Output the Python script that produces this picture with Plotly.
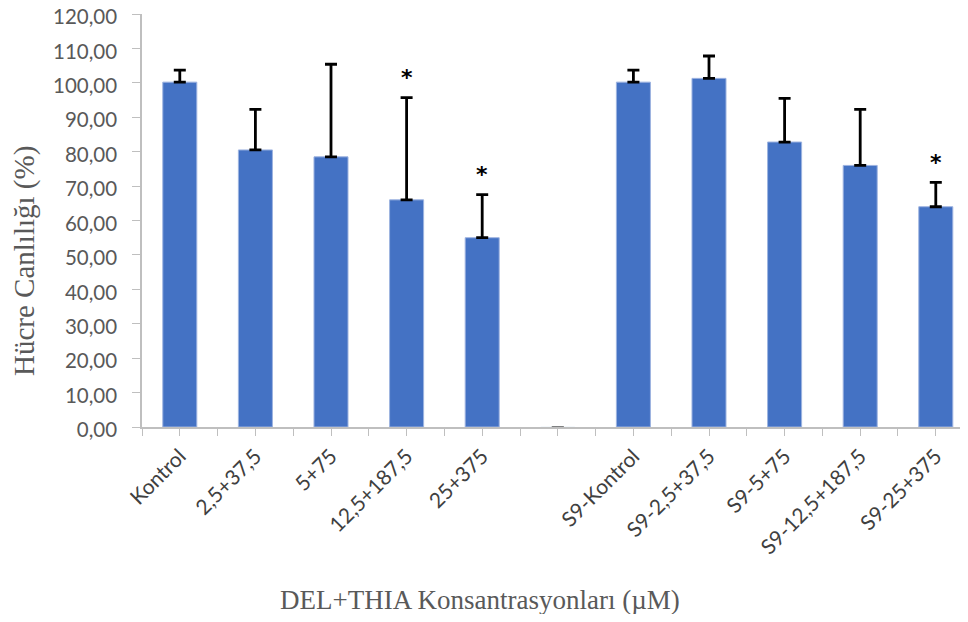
import plotly.graph_objects as go

categories = ["Kontrol", "2,5+37,5", "5+75", "12,5+187,5", "25+375", "",
              "S9-Kontrol", "S9-2,5+37,5", "S9-5+75", "S9-12,5+187,5", "S9-25+375"]
means = [100.2, 80.5, 78.5, 66.0, 55.0, 0.0, 100.2, 101.3, 82.8, 76.0, 64.0]
errors = [3.5, 11.8, 26.9, 29.7, 12.5, 0.0, 3.5, 6.5, 12.7, 16.3, 7.1]
significant = [False, False, False, True, True, False, False, False, False, False, True]
y_ticks = [0, 10, 20, 30, 40, 50, 60, 70, 80, 90, 100, 110, 120]
y_tick_labels = ["%d,00" % v for v in y_ticks]

xpos = list(range(len(categories)))
main_idx = [i for i, c in enumerate(categories) if c != ""]
blank_idx = [i for i, c in enumerate(categories) if c == ""]

fig = go.Figure()
fig.add_trace(go.Bar(
    x=[xpos[i] for i in main_idx],
    y=[means[i] for i in main_idx],
    width=0.45,
    marker=dict(color="#4472C4", line=dict(color="#9db3e0", width=1)),
    error_y=dict(type="data", symmetric=False,
                 array=[errors[i] for i in main_idx],
                 arrayminus=[0] * len(main_idx),
                 color="black", thickness=2.8, width=6),
    showlegend=False,
))
fig.add_trace(go.Bar(
    x=[xpos[i] for i in blank_idx],
    y=[means[i] for i in blank_idx],
    width=0.45,
    marker=dict(color="#4472C4"),
    error_y=dict(type="data", symmetric=False,
                 array=[errors[i] for i in blank_idx],
                 arrayminus=[0] * len(blank_idx),
                 color="#595959", thickness=1, width=6),
    showlegend=False,
))

annotations = []
for i, sig in enumerate(significant):
    if sig:
        annotations.append(dict(
            x=xpos[i], y=means[i] + errors[i], xref="x", yref="y",
            text="<b>*</b>", showarrow=False, yanchor="middle", yshift=20,
            font=dict(family="DejaVu Sans", size=22, color="black"),
        ))
annotations.append(dict(
    x=0.4086, y=-0.419, xref="paper", yref="paper",
    text="DEL+THIA Konsantrasyonları (µM)", showarrow=False,
    xanchor="center", yanchor="middle",
    font=dict(family="Liberation Serif", size=27, color="#595959"),
))
annotations.append(dict(
    x=-0.1416, y=0.402, xref="paper", yref="paper",
    text="Hücre Canlılığı (%)", showarrow=False, textangle=-90,
    xanchor="center", yanchor="middle",
    font=dict(family="Liberation Serif", size=29, color="#595959"),
))

fig.update_layout(
    width=960, height=606,
    margin=dict(l=134, r=0, t=6, b=187),
    paper_bgcolor="white", plot_bgcolor="white",
    barmode="overlay",
    annotations=annotations,
    xaxis=dict(
        range=[-0.5, 10.426], automargin=False,
        tickmode="array", tickvals=xpos, ticktext=categories,
        tickangle=-45,
        ticks="outside", ticklen=7, tickcolor="#bfbfbf",
        minor=dict(ticks="outside", ticklen=7, tickcolor="#bfbfbf",
                   tick0=0.5, dtick=1),
        showline=True, linecolor="#bfbfbf", linewidth=1.5,
        showgrid=False, zeroline=False,
        tickfont=dict(family="Lato", size=21, color="#404040"),
    ),
    yaxis=dict(
        range=[0, 120], automargin=False,
        tickmode="array", tickvals=y_ticks, ticktext=y_tick_labels,
        ticks="outside", ticklen=8, tickcolor="#bfbfbf",
        showline=True, linecolor="#bfbfbf", linewidth=1.5,
        showgrid=False, zeroline=False,
        ticklabelstandoff=11, ticklabeloverflow="allow", ticklabelshift=3,
        tickfont=dict(family="Lato", size=20.5, color="#595959"),
    ),
)

fig.write_html("out.html")
